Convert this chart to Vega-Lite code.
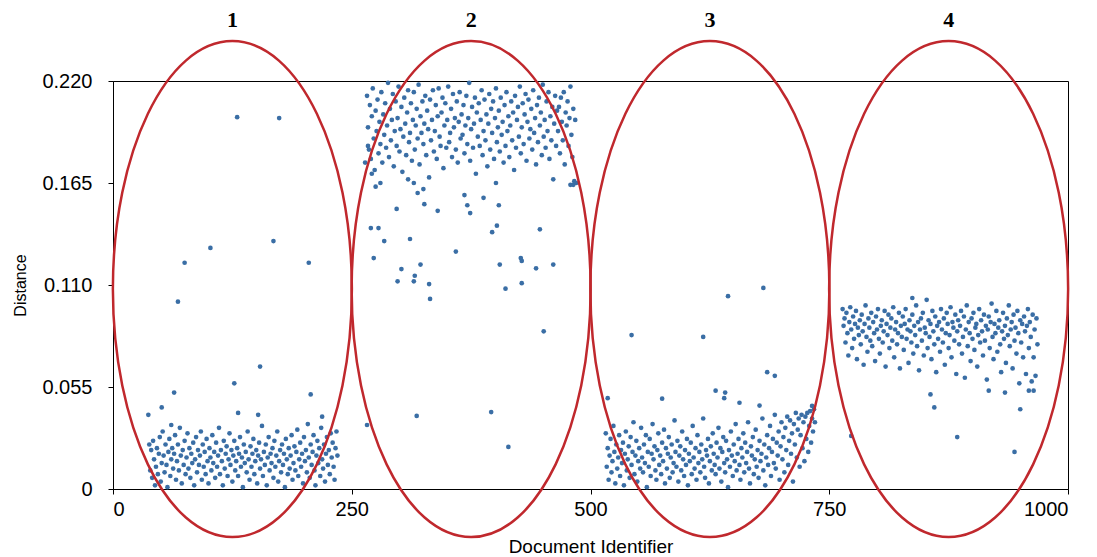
{
"$schema":"https://vega.github.io/schema/vega-lite/v6.json",
"width":955,"height":408,
"autosize":"none",
"padding":{"left":113,"top":81,"right":29,"bottom":68},
"background":"white",
"config":{"view":{"stroke":"#000","strokeWidth":1},
"axis":{"grid":false,"domainColor":"#000","tickColor":"#000","labelFont":"Liberation Sans","labelColor":"#000","labelFontSize":20,"titleFont":"Liberation Sans","titleFontSize":19,"titleFontWeight":"normal","titleColor":"#000"}},
"datasets":{
"ell":[{"x":125,"y":0.1078,"ly":0.2529,"label":"1"},{"x":375,"y":0.1078,"ly":0.2529,"label":"2"},{"x":625,"y":0.1078,"ly":0.2529,"label":"3"},{"x":875,"y":0.1078,"ly":0.2529,"label":"4"}],
"pts":[
{"x":130,"y":0.2005},{"x":174,"y":0.2},{"x":102,"y":0.13},{"x":168,"y":0.1337},{"x":75,"y":0.122},{"x":68,"y":0.101},{"x":205,"y":0.122},{"x":154,"y":0.066},{"x":127,"y":0.057},{"x":64,"y":0.052},{"x":207,"y":0.051},{"x":37,"y":0.04},{"x":51,"y":0.044},{"x":152,"y":0.04},{"x":131,"y":0.041},{"x":219,"y":0.039},{"x":61,"y":0.0345},
{"x":38,"y":0.024},{"x":39,"y":0.010},{"x":40,"y":0.021},{"x":41,"y":0.006},{"x":42,"y":0.026},{"x":43,"y":0.016},{"x":44,"y":0.002},{"x":45,"y":0.012},{"x":46,"y":0.022},{"x":47,"y":0.008},{"x":48,"y":0.019},{"x":49,"y":0.028},{"x":50,"y":0.004},{"x":51,"y":0.014},{"x":52,"y":0.031},{"x":53,"y":0.018},{"x":54,"y":0.009},{"x":55,"y":0.024},{"x":56,"y":0.013},{"x":57,"y":0.001},{"x":58,"y":0.020},{"x":59,"y":0.027},{"x":60,"y":0.007},{"x":61,"y":0.016},{"x":62,"y":0.022},{"x":63,"y":0.011},{"x":64,"y":0.019},{"x":65,"y":0.029},{"x":66,"y":0.005},{"x":67,"y":0.015},{"x":68,"y":0.024},{"x":69,"y":0.010},{"x":70,"y":0.033},{"x":71,"y":0.018},{"x":72,"y":0.003},{"x":73,"y":0.021},{"x":74,"y":0.013},{"x":75,"y":0.026},{"x":76,"y":0.008},{"x":77,"y":0.017},{"x":78,"y":0.030},{"x":79,"y":0.011},{"x":80,"y":0.022},{"x":81,"y":0.006},{"x":82,"y":0.019},{"x":83,"y":0.014},{"x":84,"y":0.025},{"x":85,"y":0.002},{"x":86,"y":0.016},{"x":87,"y":0.028},{"x":88,"y":0.009},{"x":89,"y":0.021},{"x":90,"y":0.013},{"x":91,"y":0.018},{"x":92,"y":0.031},{"x":93,"y":0.005},{"x":94,"y":0.024},{"x":95,"y":0.012},{"x":96,"y":0.020},{"x":97,"y":0.008},{"x":98,"y":0.027},{"x":99,"y":0.015},{"x":100,"y":0.003},{"x":101,"y":0.022},{"x":102,"y":0.017},{"x":103,"y":0.010},{"x":104,"y":0.029},{"x":105,"y":0.014},{"x":106,"y":0.020},{"x":107,"y":0.006},{"x":108,"y":0.025},{"x":109,"y":0.012},{"x":110,"y":0.018},{"x":111,"y":0.033},{"x":112,"y":0.008},{"x":113,"y":0.021},{"x":114,"y":0.015},{"x":115,"y":0.002},{"x":116,"y":0.026},{"x":117,"y":0.011},{"x":118,"y":0.019},{"x":119,"y":0.023},{"x":120,"y":0.007},{"x":121,"y":0.016},{"x":122,"y":0.030},{"x":123,"y":0.013},{"x":124,"y":0.021},{"x":125,"y":0.004},{"x":126,"y":0.018},{"x":127,"y":0.026},{"x":128,"y":0.010},{"x":129,"y":0.015},{"x":130,"y":0.022},{"x":131,"y":0.007},{"x":132,"y":0.019},{"x":133,"y":0.028},{"x":134,"y":0.012},{"x":135,"y":0.017},{"x":136,"y":0.001},{"x":137,"y":0.024},{"x":138,"y":0.014},{"x":139,"y":0.020},{"x":140,"y":0.009},{"x":141,"y":0.031},{"x":142,"y":0.016},{"x":143,"y":0.005},{"x":144,"y":0.023},{"x":145,"y":0.012},{"x":146,"y":0.019},{"x":147,"y":0.027},{"x":148,"y":0.008},{"x":149,"y":0.015},{"x":150,"y":0.021},{"x":151,"y":0.003},{"x":152,"y":0.018},{"x":153,"y":0.025},{"x":154,"y":0.011},{"x":155,"y":0.016},{"x":156,"y":0.034},{"x":157,"y":0.007},{"x":158,"y":0.020},{"x":159,"y":0.013},{"x":160,"y":0.024},{"x":161,"y":0.002},{"x":162,"y":0.017},{"x":163,"y":0.028},{"x":164,"y":0.010},{"x":165,"y":0.019},{"x":166,"y":0.014},{"x":167,"y":0.022},{"x":168,"y":0.006},{"x":169,"y":0.026},{"x":170,"y":0.012},{"x":171,"y":0.018},{"x":172,"y":0.031},{"x":173,"y":0.004},{"x":174,"y":0.015},{"x":175,"y":0.021},{"x":176,"y":0.009},{"x":177,"y":0.024},{"x":178,"y":0.013},{"x":179,"y":0.019},{"x":180,"y":0.001},{"x":181,"y":0.027},{"x":182,"y":0.016},{"x":183,"y":0.008},{"x":184,"y":0.022},{"x":185,"y":0.011},{"x":186,"y":0.018},{"x":187,"y":0.029},{"x":188,"y":0.005},{"x":189,"y":0.014},{"x":190,"y":0.023},{"x":191,"y":0.010},{"x":192,"y":0.020},{"x":193,"y":0.032},{"x":194,"y":0.007},{"x":195,"y":0.016},{"x":196,"y":0.025},{"x":197,"y":0.012},{"x":198,"y":0.019},{"x":199,"y":0.003},{"x":200,"y":0.028},{"x":201,"y":0.015},{"x":202,"y":0.021},{"x":203,"y":0.009},{"x":204,"y":0.035},{"x":205,"y":0.017},{"x":206,"y":0.006},{"x":207,"y":0.024},{"x":208,"y":0.013},{"x":209,"y":0.020},{"x":210,"y":0.029},{"x":211,"y":0.010},{"x":212,"y":0.002},{"x":213,"y":0.018},{"x":214,"y":0.026},{"x":215,"y":0.014},{"x":216,"y":0.022},{"x":217,"y":0.007},{"x":218,"y":0.033},{"x":219,"y":0.016},{"x":220,"y":0.011},{"x":221,"y":0.024},{"x":222,"y":0.004},{"x":223,"y":0.019},{"x":224,"y":0.028},{"x":225,"y":0.013},{"x":226,"y":0.021},{"x":227,"y":0.008},{"x":228,"y":0.030},{"x":229,"y":0.017},{"x":230,"y":0.025},{"x":231,"y":0.012},{"x":232,"y":0.005},{"x":233,"y":0.022},{"x":234,"y":0.031},{"x":235,"y":0.018},
{"x":302,"y":0.1186},{"x":322,"y":0.121},{"x":316,"y":0.115},{"x":298,"y":0.112},{"x":315,"y":0.112},{"x":331,"y":0.1105},{"x":332,"y":0.1025},{"x":405,"y":0.121},{"x":428,"y":0.123},{"x":443,"y":0.119},{"x":461,"y":0.121},{"x":411,"y":0.108},{"x":428,"y":0.111},{"x":451,"y":0.085},{"x":266,"y":0.0345},{"x":318,"y":0.0394},{"x":396,"y":0.0415},{"x":414,"y":0.0227},
{"x":273,"y":0.1245},{"x":359,"y":0.128},{"x":427,"y":0.1245},{"x":270,"y":0.1407},{"x":278,"y":0.1407},{"x":284,"y":0.1337},{"x":311,"y":0.1348},{"x":397,"y":0.1385},{"x":402,"y":0.142},{"x":447,"y":0.14},{"x":297,"y":0.151},{"x":340,"y":0.15},{"x":368,"y":0.1585},{"x":371,"y":0.153},{"x":374,"y":0.1488},{"x":388,"y":0.157},{"x":404,"y":0.153},{"x":326,"y":0.1536},{"x":319,"y":0.1596},{"x":325,"y":0.1617},{"x":315,"y":0.165},{"x":309,"y":0.167},{"x":280,"y":0.165},{"x":275,"y":0.163},{"x":271,"y":0.17},{"x":401,"y":0.165},{"x":479,"y":0.164},{"x":482,"y":0.164},{"x":264,"y":0.176},{"x":267,"y":0.185},
{"x":266,"y":0.212},{"x":267,"y":0.195},{"x":268,"y":0.183},{"x":269,"y":0.207},{"x":270,"y":0.178},{"x":271,"y":0.201},{"x":272,"y":0.216},{"x":273,"y":0.189},{"x":274,"y":0.172},{"x":275,"y":0.204},{"x":276,"y":0.193},{"x":277,"y":0.210},{"x":278,"y":0.181},{"x":279,"y":0.198},{"x":280,"y":0.186},{"x":281,"y":0.214},{"x":282,"y":0.176},{"x":283,"y":0.202},{"x":284,"y":0.191},{"x":285,"y":0.208},{"x":286,"y":0.184},{"x":287,"y":0.196},{"x":288,"y":0.219},{"x":289,"y":0.179},{"x":290,"y":0.205},{"x":291,"y":0.188},{"x":292,"y":0.199},{"x":293,"y":0.213},{"x":294,"y":0.174},{"x":295,"y":0.193},{"x":296,"y":0.209},{"x":297,"y":0.185},{"x":298,"y":0.200},{"x":299,"y":0.217},{"x":300,"y":0.182},{"x":301,"y":0.194},{"x":302,"y":0.206},{"x":303,"y":0.171},{"x":304,"y":0.190},{"x":305,"y":0.211},{"x":306,"y":0.197},{"x":307,"y":0.180},{"x":308,"y":0.203},{"x":309,"y":0.215},{"x":310,"y":0.187},{"x":311,"y":0.192},{"x":312,"y":0.208},{"x":313,"y":0.177},{"x":314,"y":0.199},{"x":315,"y":0.214},{"x":316,"y":0.183},{"x":317,"y":0.196},{"x":318,"y":0.205},{"x":319,"y":0.189},{"x":320,"y":0.218},{"x":321,"y":0.175},{"x":322,"y":0.201},{"x":323,"y":0.192},{"x":324,"y":0.209},{"x":325,"y":0.186},{"x":326,"y":0.197},{"x":327,"y":0.212},{"x":328,"y":0.180},{"x":329,"y":0.204},{"x":330,"y":0.194},{"x":331,"y":0.168},{"x":332,"y":0.210},{"x":333,"y":0.188},{"x":334,"y":0.199},{"x":335,"y":0.215},{"x":336,"y":0.182},{"x":337,"y":0.193},{"x":338,"y":0.207},{"x":339,"y":0.178},{"x":340,"y":0.201},{"x":341,"y":0.216},{"x":342,"y":0.190},{"x":343,"y":0.185},{"x":344,"y":0.203},{"x":345,"y":0.211},{"x":346,"y":0.173},{"x":347,"y":0.196},{"x":348,"y":0.208},{"x":349,"y":0.184},{"x":350,"y":0.199},{"x":351,"y":0.217},{"x":352,"y":0.187},{"x":353,"y":0.192},{"x":354,"y":0.205},{"x":355,"y":0.179},{"x":356,"y":0.213},{"x":357,"y":0.195},{"x":358,"y":0.200},{"x":359,"y":0.183},{"x":360,"y":0.209},{"x":361,"y":0.176},{"x":362,"y":0.198},{"x":363,"y":0.214},{"x":364,"y":0.189},{"x":365,"y":0.202},{"x":366,"y":0.191},{"x":367,"y":0.207},{"x":368,"y":0.181},{"x":369,"y":0.196},{"x":370,"y":0.212},{"x":371,"y":0.186},{"x":372,"y":0.200},{"x":373,"y":0.219},{"x":374,"y":0.177},{"x":375,"y":0.194},{"x":376,"y":0.206},{"x":377,"y":0.184},{"x":378,"y":0.197},{"x":379,"y":0.211},{"x":380,"y":0.170},{"x":381,"y":0.203},{"x":382,"y":0.190},{"x":383,"y":0.208},{"x":384,"y":0.185},{"x":385,"y":0.199},{"x":386,"y":0.215},{"x":387,"y":0.180},{"x":388,"y":0.193},{"x":389,"y":0.210},{"x":390,"y":0.188},{"x":391,"y":0.202},{"x":392,"y":0.174},{"x":393,"y":0.197},{"x":394,"y":0.213},{"x":395,"y":0.183},{"x":396,"y":0.205},{"x":397,"y":0.192},{"x":398,"y":0.209},{"x":399,"y":0.178},{"x":400,"y":0.200},{"x":401,"y":0.216},{"x":402,"y":0.187},{"x":403,"y":0.195},{"x":404,"y":0.204},{"x":405,"y":0.182},{"x":406,"y":0.211},{"x":407,"y":0.191},{"x":408,"y":0.198},{"x":409,"y":0.176},{"x":410,"y":0.207},{"x":411,"y":0.185},{"x":412,"y":0.214},{"x":413,"y":0.193},{"x":414,"y":0.201},{"x":415,"y":0.179},{"x":416,"y":0.196},{"x":417,"y":0.209},{"x":418,"y":0.188},{"x":419,"y":0.203},{"x":420,"y":0.172},{"x":421,"y":0.212},{"x":422,"y":0.184},{"x":423,"y":0.199},{"x":424,"y":0.206},{"x":425,"y":0.190},{"x":426,"y":0.217},{"x":427,"y":0.181},{"x":428,"y":0.195},{"x":429,"y":0.208},{"x":430,"y":0.186},{"x":431,"y":0.202},{"x":432,"y":0.213},{"x":433,"y":0.177},{"x":434,"y":0.198},{"x":435,"y":0.210},{"x":436,"y":0.189},{"x":437,"y":0.194},{"x":438,"y":0.205},{"x":439,"y":0.183},{"x":440,"y":0.215},{"x":441,"y":0.192},{"x":442,"y":0.200},{"x":443,"y":0.175},{"x":444,"y":0.207},{"x":445,"y":0.187},{"x":446,"y":0.211},{"x":447,"y":0.196},{"x":448,"y":0.203},{"x":449,"y":0.180},{"x":450,"y":0.218},{"x":451,"y":0.190},{"x":452,"y":0.199},{"x":453,"y":0.184},{"x":454,"y":0.209},{"x":455,"y":0.193},{"x":456,"y":0.214},{"x":457,"y":0.178},{"x":458,"y":0.201},{"x":459,"y":0.188},{"x":460,"y":0.206},{"x":461,"y":0.167},{"x":462,"y":0.197},{"x":463,"y":0.212},{"x":464,"y":0.185},{"x":465,"y":0.204},{"x":466,"y":0.193},{"x":467,"y":0.206},{"x":468,"y":0.181},{"x":469,"y":0.211},{"x":470,"y":0.198},{"x":471,"y":0.188},{"x":472,"y":0.214},{"x":473,"y":0.175},{"x":474,"y":0.203},{"x":475,"y":0.196},{"x":476,"y":0.209},{"x":477,"y":0.185},{"x":478,"y":0.200},{"x":479,"y":0.217},{"x":480,"y":0.191},{"x":481,"y":0.179},{"x":482,"y":0.205},{"x":483,"y":0.166},{"x":484,"y":0.199},{"x":485,"y":0.165},
{"x":681,"y":0.1084},{"x":644,"y":0.104},{"x":543,"y":0.083},{"x":618,"y":0.082},{"x":685,"y":0.063},{"x":693,"y":0.061},{"x":631,"y":0.053},{"x":641,"y":0.052},{"x":640,"y":0.049},{"x":518,"y":0.049},{"x":575,"y":0.0487},{"x":656,"y":0.0465},{"x":677,"y":0.045},{"x":732,"y":0.0448},
{"x":516,"y":0.030},{"x":517,"y":0.012},{"x":518,"y":0.022},{"x":519,"y":0.005},{"x":520,"y":0.018},{"x":521,"y":0.027},{"x":522,"y":0.009},{"x":523,"y":0.015},{"x":524,"y":0.034},{"x":525,"y":0.020},{"x":526,"y":0.003},{"x":527,"y":0.024},{"x":528,"y":0.011},{"x":529,"y":0.017},{"x":530,"y":0.029},{"x":531,"y":0.007},{"x":532,"y":0.021},{"x":533,"y":0.014},{"x":534,"y":0.025},{"x":535,"y":0.002},{"x":536,"y":0.019},{"x":537,"y":0.031},{"x":538,"y":0.010},{"x":539,"y":0.016},{"x":540,"y":0.023},{"x":541,"y":0.006},{"x":542,"y":0.028},{"x":543,"y":0.013},{"x":544,"y":0.020},{"x":545,"y":0.036},{"x":546,"y":0.008},{"x":547,"y":0.018},{"x":548,"y":0.026},{"x":549,"y":0.004},{"x":550,"y":0.015},{"x":551,"y":0.022},{"x":552,"y":0.011},{"x":553,"y":0.033},{"x":554,"y":0.017},{"x":555,"y":0.009},{"x":556,"y":0.024},{"x":557,"y":0.014},{"x":558,"y":0.029},{"x":559,"y":0.001},{"x":560,"y":0.020},{"x":561,"y":0.012},{"x":562,"y":0.027},{"x":563,"y":0.007},{"x":564,"y":0.019},{"x":565,"y":0.035},{"x":566,"y":0.016},{"x":567,"y":0.023},{"x":568,"y":0.010},{"x":569,"y":0.005},{"x":570,"y":0.021},{"x":571,"y":0.030},{"x":572,"y":0.013},{"x":573,"y":0.018},{"x":574,"y":0.008},{"x":575,"y":0.025},{"x":576,"y":0.015},{"x":577,"y":0.032},{"x":578,"y":0.003},{"x":579,"y":0.022},{"x":580,"y":0.011},{"x":581,"y":0.019},{"x":582,"y":0.028},{"x":583,"y":0.006},{"x":584,"y":0.017},{"x":585,"y":0.024},{"x":586,"y":0.009},{"x":587,"y":0.014},{"x":588,"y":0.037},{"x":589,"y":0.020},{"x":590,"y":0.012},{"x":591,"y":0.026},{"x":592,"y":0.004},{"x":593,"y":0.018},{"x":594,"y":0.023},{"x":595,"y":0.010},{"x":596,"y":0.031},{"x":597,"y":0.016},{"x":598,"y":0.007},{"x":599,"y":0.021},{"x":600,"y":0.013},{"x":601,"y":0.027},{"x":602,"y":0.002},{"x":603,"y":0.019},{"x":604,"y":0.015},{"x":605,"y":0.025},{"x":606,"y":0.008},{"x":607,"y":0.034},{"x":608,"y":0.017},{"x":609,"y":0.011},{"x":610,"y":0.022},{"x":611,"y":0.005},{"x":612,"y":0.029},{"x":613,"y":0.014},{"x":614,"y":0.020},{"x":615,"y":0.009},{"x":616,"y":0.024},{"x":617,"y":0.016},{"x":618,"y":0.038},{"x":619,"y":0.012},{"x":620,"y":0.006},{"x":621,"y":0.021},{"x":622,"y":0.018},{"x":623,"y":0.027},{"x":624,"y":0.003},{"x":625,"y":0.015},{"x":626,"y":0.023},{"x":627,"y":0.010},{"x":628,"y":0.030},{"x":629,"y":0.019},{"x":630,"y":0.013},{"x":631,"y":0.008},{"x":632,"y":0.025},{"x":633,"y":0.017},{"x":634,"y":0.033},{"x":635,"y":0.011},{"x":636,"y":0.022},{"x":637,"y":0.004},{"x":638,"y":0.020},{"x":639,"y":0.028},{"x":640,"y":0.014},{"x":641,"y":0.009},{"x":642,"y":0.026},{"x":643,"y":0.016},{"x":644,"y":0.001},{"x":645,"y":0.021},{"x":646,"y":0.012},{"x":647,"y":0.031},{"x":648,"y":0.018},{"x":649,"y":0.007},{"x":650,"y":0.024},{"x":651,"y":0.015},{"x":652,"y":0.035},{"x":653,"y":0.010},{"x":654,"y":0.019},{"x":655,"y":0.027},{"x":656,"y":0.013},{"x":657,"y":0.005},{"x":658,"y":0.022},{"x":659,"y":0.017},{"x":660,"y":0.030},{"x":661,"y":0.009},{"x":662,"y":0.025},{"x":663,"y":0.014},{"x":664,"y":0.020},{"x":665,"y":0.036},{"x":666,"y":0.011},{"x":667,"y":0.003},{"x":668,"y":0.023},{"x":669,"y":0.018},{"x":670,"y":0.028},{"x":671,"y":0.008},{"x":672,"y":0.016},{"x":673,"y":0.032},{"x":674,"y":0.012},{"x":675,"y":0.021},{"x":676,"y":0.006},{"x":677,"y":0.026},{"x":678,"y":0.015},{"x":679,"y":0.019},{"x":680,"y":0.038},{"x":681,"y":0.010},{"x":682,"y":0.024},{"x":683,"y":0.002},{"x":684,"y":0.017},{"x":685,"y":0.029},{"x":686,"y":0.013},{"x":687,"y":0.022},{"x":688,"y":0.034},{"x":689,"y":0.007},{"x":690,"y":0.020},{"x":691,"y":0.027},{"x":692,"y":0.014},{"x":693,"y":0.040},{"x":694,"y":0.011},{"x":695,"y":0.025},{"x":696,"y":0.018},{"x":697,"y":0.031},{"x":698,"y":0.005},{"x":699,"y":0.023},{"x":700,"y":0.036},{"x":701,"y":0.016},{"x":702,"y":0.028},{"x":703,"y":0.009},{"x":704,"y":0.033},{"x":705,"y":0.021},{"x":706,"y":0.039},{"x":707,"y":0.013},{"x":708,"y":0.026},{"x":709,"y":0.037},{"x":710,"y":0.019},{"x":711,"y":0.030},{"x":712,"y":0.004},{"x":713,"y":0.035},{"x":714,"y":0.024},{"x":715,"y":0.041},{"x":716,"y":0.017},{"x":717,"y":0.032},{"x":718,"y":0.038},{"x":719,"y":0.012},{"x":720,"y":0.029},{"x":721,"y":0.040},{"x":722,"y":0.022},{"x":723,"y":0.036},{"x":724,"y":0.015},{"x":725,"y":0.039},{"x":726,"y":0.027},{"x":727,"y":0.041},{"x":728,"y":0.020},{"x":729,"y":0.034},{"x":730,"y":0.042},{"x":731,"y":0.025},{"x":732,"y":0.038},{"x":733,"y":0.031},{"x":734,"y":0.043},{"x":735,"y":0.036},
{"x":773,"y":0.0286},{"x":884,"y":0.028},{"x":944,"y":0.02},{"x":860,"y":0.044},{"x":856,"y":0.051},{"x":950,"y":0.043},{"x":837,"y":0.103},{"x":934,"y":0.052},{"x":917,"y":0.053},{"x":959,"y":0.053},{"x":964,"y":0.053},
{"x":764,"y":0.097},{"x":765,"y":0.088},{"x":766,"y":0.092},{"x":767,"y":0.079},{"x":768,"y":0.095},{"x":769,"y":0.084},{"x":770,"y":0.072},{"x":771,"y":0.090},{"x":772,"y":0.098},{"x":773,"y":0.086},{"x":774,"y":0.076},{"x":775,"y":0.093},{"x":776,"y":0.081},{"x":777,"y":0.089},{"x":778,"y":0.096},{"x":779,"y":0.070},{"x":780,"y":0.087},{"x":781,"y":0.083},{"x":782,"y":0.091},{"x":783,"y":0.078},{"x":784,"y":0.094},{"x":785,"y":0.085},{"x":786,"y":0.067},{"x":787,"y":0.089},{"x":788,"y":0.099},{"x":789,"y":0.082},{"x":790,"y":0.074},{"x":791,"y":0.092},{"x":792,"y":0.087},{"x":793,"y":0.080},{"x":794,"y":0.095},{"x":795,"y":0.077},{"x":796,"y":0.090},{"x":797,"y":0.084},{"x":798,"y":0.069},{"x":799,"y":0.093},{"x":800,"y":0.086},{"x":801,"y":0.097},{"x":802,"y":0.081},{"x":803,"y":0.073},{"x":804,"y":0.088},{"x":805,"y":0.091},{"x":806,"y":0.079},{"x":807,"y":0.085},{"x":808,"y":0.096},{"x":809,"y":0.066},{"x":810,"y":0.089},{"x":811,"y":0.083},{"x":812,"y":0.094},{"x":813,"y":0.076},{"x":814,"y":0.087},{"x":815,"y":0.092},{"x":816,"y":0.080},{"x":817,"y":0.098},{"x":818,"y":0.071},{"x":819,"y":0.086},{"x":820,"y":0.090},{"x":821,"y":0.078},{"x":822,"y":0.084},{"x":823,"y":0.095},{"x":824,"y":0.065},{"x":825,"y":0.088},{"x":826,"y":0.082},{"x":827,"y":0.093},{"x":828,"y":0.075},{"x":829,"y":0.089},{"x":830,"y":0.097},{"x":831,"y":0.081},{"x":832,"y":0.086},{"x":833,"y":0.068},{"x":834,"y":0.091},{"x":835,"y":0.085},{"x":836,"y":0.079},{"x":837,"y":0.094},{"x":838,"y":0.073},{"x":839,"y":0.088},{"x":840,"y":0.083},{"x":841,"y":0.099},{"x":842,"y":0.077},{"x":843,"y":0.090},{"x":844,"y":0.064},{"x":845,"y":0.086},{"x":846,"y":0.092},{"x":847,"y":0.080},{"x":848,"y":0.095},{"x":849,"y":0.072},{"x":850,"y":0.087},{"x":851,"y":0.084},{"x":852,"y":0.102},{"x":853,"y":0.076},{"x":854,"y":0.091},{"x":855,"y":0.082},{"x":856,"y":0.089},{"x":857,"y":0.070},{"x":858,"y":0.096},{"x":859,"y":0.085},{"x":860,"y":0.078},{"x":861,"y":0.093},{"x":862,"y":0.063},{"x":863,"y":0.088},{"x":864,"y":0.081},{"x":865,"y":0.090},{"x":866,"y":0.074},{"x":867,"y":0.097},{"x":868,"y":0.086},{"x":869,"y":0.079},{"x":870,"y":0.092},{"x":871,"y":0.067},{"x":872,"y":0.084},{"x":873,"y":0.095},{"x":874,"y":0.089},{"x":875,"y":0.076},{"x":876,"y":0.083},{"x":877,"y":0.098},{"x":878,"y":0.071},{"x":879,"y":0.090},{"x":880,"y":0.087},{"x":881,"y":0.080},{"x":882,"y":0.094},{"x":883,"y":0.062},{"x":884,"y":0.085},{"x":885,"y":0.091},{"x":886,"y":0.078},{"x":887,"y":0.088},{"x":888,"y":0.096},{"x":889,"y":0.073},{"x":890,"y":0.082},{"x":891,"y":0.093},{"x":892,"y":0.060},{"x":893,"y":0.086},{"x":894,"y":0.099},{"x":895,"y":0.077},{"x":896,"y":0.090},{"x":897,"y":0.084},{"x":898,"y":0.069},{"x":899,"y":0.092},{"x":900,"y":0.081},{"x":901,"y":0.095},{"x":902,"y":0.075},{"x":903,"y":0.087},{"x":904,"y":0.089},{"x":905,"y":0.066},{"x":906,"y":0.083},{"x":907,"y":0.097},{"x":908,"y":0.079},{"x":909,"y":0.091},{"x":910,"y":0.085},{"x":911,"y":0.072},{"x":912,"y":0.094},{"x":913,"y":0.080},{"x":914,"y":0.088},{"x":915,"y":0.059},{"x":916,"y":0.086},{"x":917,"y":0.093},{"x":918,"y":0.076},{"x":919,"y":0.090},{"x":920,"y":0.100},{"x":921,"y":0.082},{"x":922,"y":0.070},{"x":923,"y":0.089},{"x":924,"y":0.084},{"x":925,"y":0.096},{"x":926,"y":0.074},{"x":927,"y":0.087},{"x":928,"y":0.091},{"x":929,"y":0.078},{"x":930,"y":0.063},{"x":931,"y":0.085},{"x":932,"y":0.095},{"x":933,"y":0.081},{"x":934,"y":0.088},{"x":935,"y":0.068},{"x":936,"y":0.092},{"x":937,"y":0.083},{"x":938,"y":0.099},{"x":939,"y":0.077},{"x":940,"y":0.086},{"x":941,"y":0.090},{"x":942,"y":0.065},{"x":943,"y":0.094},{"x":944,"y":0.080},{"x":945,"y":0.087},{"x":946,"y":0.073},{"x":947,"y":0.096},{"x":948,"y":0.084},{"x":949,"y":0.057},{"x":950,"y":0.091},{"x":951,"y":0.079},{"x":952,"y":0.089},{"x":953,"y":0.071},{"x":954,"y":0.093},{"x":955,"y":0.085},{"x":956,"y":0.062},{"x":957,"y":0.088},{"x":958,"y":0.097},{"x":959,"y":0.076},{"x":960,"y":0.090},{"x":961,"y":0.082},{"x":962,"y":0.058},{"x":963,"y":0.094},{"x":964,"y":0.071},{"x":965,"y":0.086},{"x":966,"y":0.061},{"x":967,"y":0.092},{"x":968,"y":0.078}
]},
"encoding":{
"x":{"field":"x","type":"quantitative","scale":{"domain":[0,1000],"nice":false},
"axis":{"values":[0,250,500,750,1000],"format":"d","title":"Document Identifier","tickSize":5,"labelPadding":5,"titleX":477.5,"titleY":57,"titleBaseline":"middle","titleAlign":"center"}},
"y":{"field":"y","type":"quantitative","scale":{"domain":[0,0.22],"nice":false,"zero":true},
"axis":{"values":[0,0.055,0.11,0.165,0.22],"labelExpr":"datum.value == 0 ? '0' : format(datum.value, '.3f')","title":"Distance","tickSize":5,"labelPadding":16,"titleX":-93,"titleY":204,"titleAngle":-90,"titleAlign":"center","titleBaseline":"middle","titleFontSize":16}}
},
"layer":[
{"data":{"name":"pts"},"mark":{"type":"point","filled":true,"size":22,"color":"#3a6ea5","opacity":1}},
{"data":{"name":"ell"},"mark":{"type":"point","shape":"M-1,0A1,2.075,0,1,1,1,0A1,2.075,0,1,1,-1,0Z","size":57121,"filled":false,"stroke":"#c0282d","strokeWidth":2.5,"opacity":1}},
{"data":{"name":"ell"},"mark":{"type":"text","font":"Liberation Serif","fontWeight":"bold","fontSize":22,"color":"#000","baseline":"middle"},
"encoding":{"y":{"field":"ly","type":"quantitative"},"text":{"field":"label"}}}
]
}
